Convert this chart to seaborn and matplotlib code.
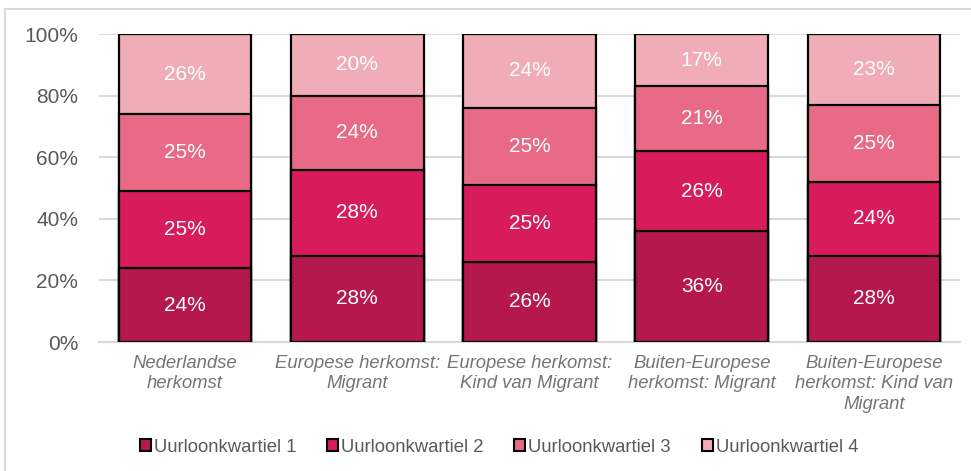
import matplotlib
matplotlib.use("Agg")
import matplotlib.pyplot as plt
import seaborn as sns
import pandas as pd
import numpy as np
from matplotlib.patches import Patch, Rectangle

categories = ["Nederlandse\nherkomst", "Europese herkomst:\nMigrant",
              "Europese herkomst:\nKind van Migrant", "Buiten-Europese\nherkomst: Migrant",
              "Buiten-Europese\nherkomst: Kind van\nMigrant"]
series_names = ["Uurloonkwartiel 1", "Uurloonkwartiel 2", "Uurloonkwartiel 3", "Uurloonkwartiel 4"]
q1 = [24, 28, 26, 36, 28]
q2 = [25, 28, 25, 26, 24]
q3 = [25, 24, 25, 21, 25]
q4 = [26, 20, 24, 17, 23]
colors = ["#B4184C", "#D81B5B", "#E96A86", "#F0ADB7"]
yticks = [0, 20, 40, 60, 80, 100]
ytick_labels = ["0%", "20%", "40%", "60%", "80%", "100%"]

sns.set_theme(style="white")
plt.rcParams["font.family"] = ["Liberation Sans", "DejaVu Sans"]

W, H = 971, 471
fig = plt.figure(figsize=(W / 100, H / 100), dpi=100)
ax = fig.add_axes([99 / W, (H - 342) / H, 861 / W, 308 / H])

# outer light border (top and left visible)
fig.patches.append(Rectangle((5 / W, -0.1), 1.2, (H - 9) / H + 0.1, transform=fig.transFigure,
                             fill=False, edgecolor="#D9D9D9", linewidth=1.5, zorder=0))

series = [q1, q2, q3, q4]
cum = np.cumsum(np.array(series, dtype=float), axis=0)
for i in range(3, -1, -1):
    df = pd.DataFrame({"cat": categories, "val": cum[i]})
    sns.barplot(data=df, x="cat", y="val", color=colors[i], width=0.77,
                edgecolor="black", linewidth=1.6, ax=ax, zorder=2, saturation=1)

for i, s in enumerate(series):
    bottoms = cum[i] - np.array(s)
    for j, v in enumerate(s):
        ax.text(j, bottoms[j] + v / 2, f"{v}%", ha="center", va="center",
                color="white", fontsize=15, zorder=5)

ax.set_ylim(0, 100)
ax.set_xlim(-0.5, len(categories) - 0.5)
ax.set_yticks(yticks)
ax.set_yticklabels(ytick_labels, fontsize=15, color="#595959")
ax.set_xlabel("")
ax.set_ylabel("")
ax.tick_params(axis="y", length=0, pad=15)
ax.tick_params(axis="x", length=0, pad=9)
for lab in ax.get_xticklabels():
    lab.set_fontstyle("italic")
    lab.set_fontsize(13.3)
    lab.set_color("#757575")
    lab.set_linespacing(1.3)
ax.yaxis.grid(True, color="#D9D9D9", linewidth=1.5, zorder=0)
ax.set_axisbelow(True)
for sp in ["left", "right", "top"]:
    ax.spines[sp].set_visible(False)
ax.spines["bottom"].set_color("#D9D9D9")
ax.spines["bottom"].set_linewidth(1.5)
ax.spines["bottom"].set_zorder(1)

handles = [Patch(facecolor=c, edgecolor="black", linewidth=1.5) for c in colors]
fig.legend(handles, series_names, loc="center", bbox_to_anchor=(499 / W, 1 - 447 / H),
           ncol=4, frameon=False, fontsize=13.3, handlelength=0.6, handleheight=0.6,
           handletextpad=0.15, columnspacing=1.68, labelcolor="#595959")

fig.savefig("out.png", dpi=100, facecolor="white")
